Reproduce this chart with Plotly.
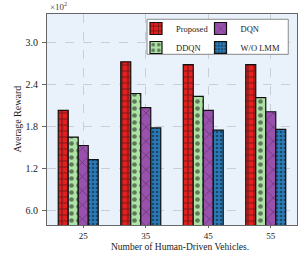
import plotly.graph_objects as go

# Data (Average Reward, raw units; axis shows ×10^2)
vehicles = [25, 35, 45, 55]
tick_labels = ["25", "35", "45", "55"]
proposed = [203, 272, 268, 268]
ddqn = [165, 227, 223, 221]
dqn = [153, 207, 203, 201]
wo_lmm = [133, 178, 175, 176]
y_tickvals = [60, 120, 180, 240, 300]
y_ticktext = ["6.0", "1.2", "1.8", "2.4", "3.0"]

FONT = "Liberation Serif"

series = [
    ("Proposed", proposed, "#e41f1f", "+", 6, 0.35, "legend"),
    ("DDQN", ddqn, "#ade3a5", ".", 7, 0.35, "legend"),
    ("DQN", dqn, "#9a51ad", "x", 10, 0.12, "legend2"),
    ("W/O LMM", wo_lmm, "#2a7bb9", ".", 4, 0.35, "legend2"),
]

fig = go.Figure()
for name, vals, color, shape, size, sol, leg in series:
    fig.add_trace(go.Bar(
        x=vehicles, y=vals, name=name, legend=leg,
        marker=dict(
            color=color,
            line=dict(color="#111111", width=1.2),
            pattern=dict(shape=shape, fgcolor="#111111", bgcolor=color,
                         size=size, solidity=sol, fillmode="overlay"),
        ),
    ))

grid = dict(showgrid=True, gridcolor="#c9ced6", griddash="dash", gridwidth=0.8)

legend_common = dict(
    yanchor="top", xanchor="left", y=1.0,
    bgcolor="rgba(0,0,0,0)", borderwidth=0,
    font=dict(family=FONT, size=8.5, color="#222222"),
    itemwidth=30, tracegroupgap=0,
)

fig.update_layout(
    width=302, height=261,
    margin=dict(l=47, r=5, t=14, b=36),
    paper_bgcolor="white",
    plot_bgcolor="#e9f1fb",
    barmode="group", bargap=0.36, bargroupgap=0,
    font=dict(family=FONT, size=10, color="#222222"),
    showlegend=True,
    xaxis=dict(
        range=[20, 60],
        tickvals=[v + 0.8 for v in vehicles], ticktext=tick_labels,
        ticks="outside", ticklen=2, tickcolor="#666666",
        ticklabelstandoff=0,
        showline=True, linecolor="#666666", linewidth=1, mirror=True,
        zeroline=False, tickfont=dict(family=FONT, size=9, color="#222222"),
        **grid,
    ),
    yaxis=dict(
        range=[40, 340],
        tickvals=y_tickvals, ticktext=y_ticktext,
        ticks="outside", ticklen=4, tickcolor="#666666",
        ticklabelstandoff=2,
        showline=True, linecolor="#666666", linewidth=1, mirror=True,
        zeroline=False, tickfont=dict(family=FONT, size=10, color="#222222"),
        **grid,
    ),
    legend=dict(x=0.356, **legend_common),
    legend2=dict(x=0.614, **legend_common),
)

# legend frame
fig.add_shape(type="rect", xref="paper", yref="paper",
              x0=0.40, x1=0.965, y0=0.809, y1=0.975,
              fillcolor="white", line=dict(color="#888888", width=1), layer="above")

fig.add_annotation(text="×10<sup>2</sup>", xref="paper", yref="paper",
                   x=0.005, y=1.0, xanchor="left", yanchor="bottom",
                   showarrow=False, font=dict(family=FONT, size=9, color="#444444"))
fig.add_annotation(text="Average Reward", xref="paper", yref="paper",
                   x=-0.12, y=0.5, xanchor="center", yanchor="middle", textangle=-90,
                   showarrow=False, font=dict(family=FONT, size=10, color="#222222"))
fig.add_annotation(text="Number of Human-Driven Vehicles.", xref="paper", yref="paper",
                   x=0.532, y=-0.07, xanchor="center", yanchor="top",
                   showarrow=False, font=dict(family=FONT, size=9.5, color="#222222"))

fig.write_html("out.html", config={"displayModeBar": False},
               post_script="document.body.style.margin='0';")
